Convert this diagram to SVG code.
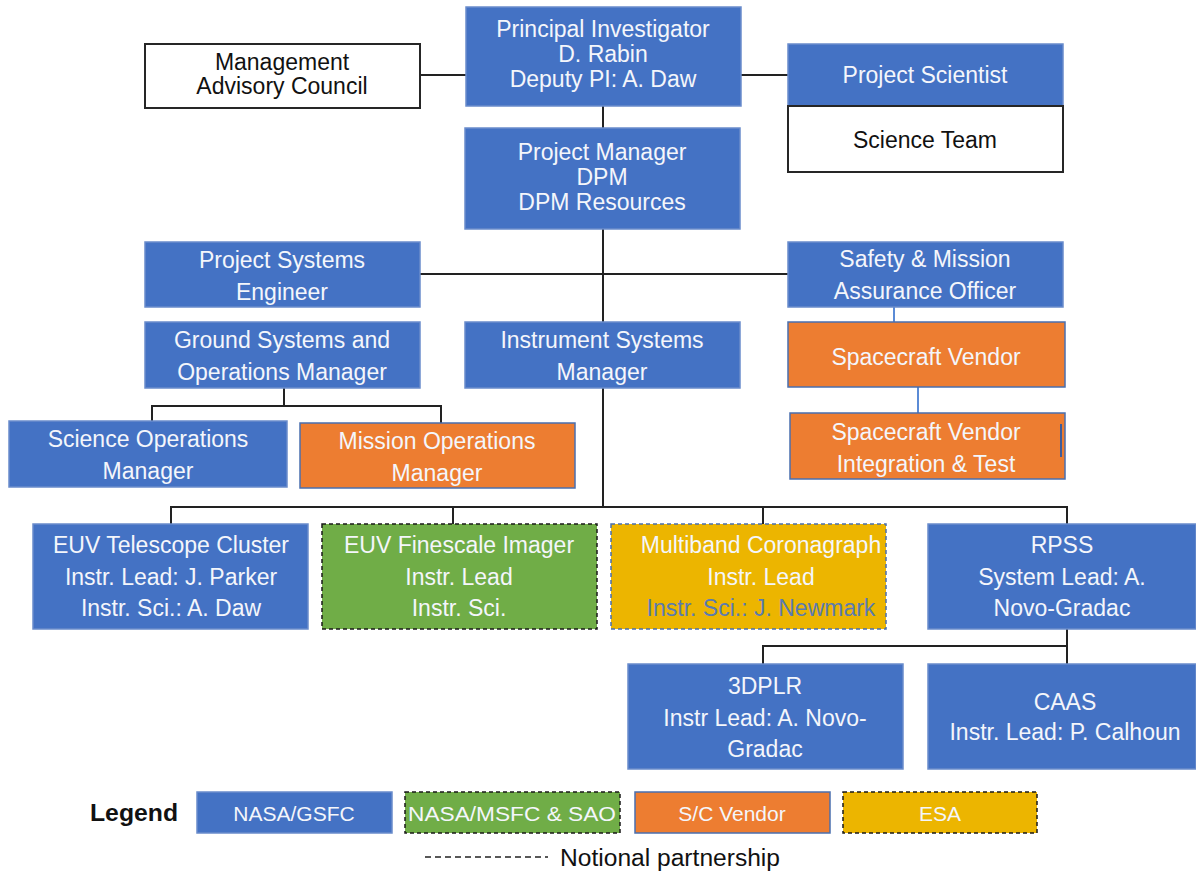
<svg xmlns="http://www.w3.org/2000/svg" width="1196" height="871" viewBox="0 0 1196 871">
<style>
.blue{fill:#4472C4;stroke:#6A8CCB;stroke-width:1.5}
.white{fill:#fff;stroke:#262626;stroke-width:2}
.orange{fill:#ED7D31;stroke:#4A6FAE;stroke-width:1.5}
.green{fill:#70AD47;stroke:#1a1a1a;stroke-width:1.5;stroke-dasharray:4 3}
.gold{fill:#ECB500;stroke:#4A6FAE;stroke-width:1.5;stroke-dasharray:4 3}
.goldL{fill:#ECB500;stroke:#1a1a1a;stroke-width:1.5;stroke-dasharray:4 3}
text{font-family:"Liberation Sans",Arial,sans-serif;font-size:23px;text-anchor:middle}
.w{fill:#F4F6FB}
.k{fill:#111}
.lg{font-size:21px}
.conn line,.conn polyline{stroke:#222;stroke-width:2;fill:none}
.conn .bl{stroke:#5B8BD6;stroke-width:2}
</style>
<g class="conn">
<line x1="420" y1="75" x2="466" y2="75"/>
<line x1="741" y1="75" x2="788" y2="75"/>
<line x1="603" y1="106" x2="603" y2="128"/>
<line x1="603" y1="229" x2="603" y2="322"/>
<line x1="420" y1="274" x2="788" y2="274"/>
<line x1="603" y1="388" x2="603" y2="507"/>
<line x1="284" y1="388" x2="284" y2="406"/>
<polyline points="152,421 152,406 441,406 441,423"/>
<polyline points="171,524 171,507 1067,507 1067,524"/>
<line x1="453" y1="507" x2="453" y2="524"/>
<line x1="763" y1="507" x2="763" y2="524"/>
<line x1="1067" y1="629" x2="1067" y2="664"/>
<polyline points="763,664 763,646 1067,646"/>
<line class="bl" x1="894" y1="307" x2="894" y2="337"/>
<line class="bl" x1="918" y1="375" x2="918" y2="423"/>
</g>
<g id="mac"><rect class="white" x="145" y="44" width="275" height="64"/><text class="k" x="282" y="70">Management</text><text class="k" x="282" y="94">Advisory Council</text></g>
<g id="pi"><rect class="blue" x="466" y="7" width="275" height="99"/><text class="w" x="603" y="37">Principal Investigator</text><text class="w" x="603" y="62">D. Rabin</text><text class="w" x="603" y="87">Deputy PI: A. Daw</text></g>
<g id="ps"><rect class="blue" x="788" y="44" width="275" height="62"/><text class="w" x="925" y="83">Project Scientist</text></g>
<g id="st"><rect class="white" x="788" y="106" width="275" height="66"/><text class="k" x="925" y="148">Science Team</text></g>
<g id="pm"><rect class="blue" x="465" y="128" width="275" height="101"/><text class="w" x="602" y="160">Project Manager</text><text class="w" x="602" y="185">DPM</text><text class="w" x="602" y="210">DPM Resources</text></g>
<g id="pse"><rect class="blue" x="145" y="242" width="275" height="65"/><text class="w" x="282" y="268">Project Systems</text><text class="w" x="282" y="300">Engineer</text></g>
<g id="sma"><rect class="blue" x="788" y="242" width="275" height="65"/><text class="w" x="925" y="267">Safety &amp; Mission</text><text class="w" x="925" y="299">Assurance Officer</text></g>
<g id="gsom"><rect class="blue" x="145" y="322" width="275" height="66"/><text class="w" x="282" y="348">Ground  Systems and</text><text class="w" x="282" y="380">Operations Manager</text></g>
<g id="ism"><rect class="blue" x="465" y="322" width="275" height="66"/><text class="w" x="602" y="348">Instrument  Systems</text><text class="w" x="602" y="380">Manager</text></g>
<g id="scv"><rect class="orange" x="788" y="322" width="277" height="65"/><text class="w" x="926" y="365">Spacecraft Vendor</text></g>
<g id="scvit"><rect class="orange" x="790" y="413" width="275" height="66"/><text class="w" x="926" y="440">Spacecraft Vendor</text><text class="w" x="926" y="472">Integration &amp; Test</text><line x1="1061" y1="424" x2="1061" y2="457" stroke="#3E5C9A" stroke-width="2"/></g>
<g id="som"><rect class="blue" x="9" y="421" width="278" height="66"/><text class="w" x="148" y="447">Science Operations</text><text class="w" x="148" y="479">Manager</text></g>
<g id="mom"><rect class="orange" x="300" y="423" width="275" height="65"/><text class="w" x="437" y="449">Mission Operations</text><text class="w" x="437" y="481">Manager</text></g>
<g id="euvtc"><rect class="blue" x="33" y="524" width="275" height="105"/><text class="w" x="171" y="553">EUV Telescope Cluster</text><text class="w" x="171" y="585">Instr. Lead: J. Parker</text><text class="w" x="171" y="616">Instr. Sci.: A. Daw</text></g>
<g id="euvfi"><rect class="green" x="322" y="524" width="275" height="105"/><text class="w" x="459" y="553">EUV Finescale Imager</text><text class="w" x="459" y="585">Instr. Lead</text><text class="w" x="459" y="616">Instr. Sci.</text></g>
<g id="mbc"><rect class="gold" x="611" y="524" width="275" height="105"/><text class="w" x="761" y="553">Multiband  Coronagraph</text><text class="w" x="761" y="585">Instr. Lead</text><text x="761" y="616" fill="#5A7BB0">Instr. Sci.: J. Newmark</text></g>
<g id="rpss"><rect class="blue" x="928" y="524" width="268" height="105"/><text class="w" x="1062" y="553">RPSS</text><text class="w" x="1062" y="585">System Lead: A.</text><text class="w" x="1062" y="616">Novo-Gradac</text></g>
<g id="dplr"><rect class="blue" x="628" y="664" width="275" height="105"/><text class="w" x="765" y="694">3DPLR</text><text class="w" x="765" y="726">Instr Lead: A. Novo-</text><text class="w" x="765" y="757">Gradac</text></g>
<g id="caas"><rect class="blue" x="928" y="664" width="268" height="105"/><text class="w" x="1065" y="710">CAAS</text><text class="w" x="1065" y="740">Instr. Lead: P. Calhoun</text></g>
<g id="legend">
<text class="k" x="90" y="821" style="font-weight:bold;font-size:23px;text-anchor:start" textLength="88" lengthAdjust="spacingAndGlyphs">Legend</text>
<rect class="blue" x="197" y="792" width="195" height="41"/><text class="w lg" x="294" y="821">NASA/GSFC</text>
<rect class="green" x="405" y="792" width="215" height="41"/><text class="w lg" x="512" y="821" textLength="208" lengthAdjust="spacingAndGlyphs">NASA/MSFC  &amp; SAO</text>
<rect class="orange" x="635" y="792" width="195" height="41"/><text class="w lg" x="732" y="821">S/C Vendor</text>
<rect class="goldL" x="843" y="792" width="194" height="41"/><text class="w lg" x="940" y="821">ESA</text>
<line x1="425" y1="857" x2="548" y2="857" stroke="#222" stroke-width="1.5" stroke-dasharray="6 4"/>
<text class="k" x="560" y="866" style="text-anchor:start;font-size:23px" textLength="220" lengthAdjust="spacingAndGlyphs">Notional partnership</text>
</g>
</svg>
